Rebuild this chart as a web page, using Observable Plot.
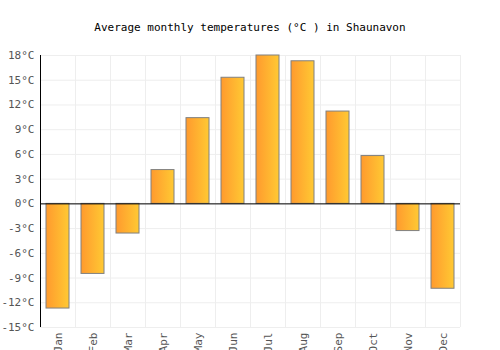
<!DOCTYPE html>
<html>
<head>
<meta charset="utf-8">
<script src="https://cdn.jsdelivr.net/npm/d3@7"></script>
<script src="https://cdn.jsdelivr.net/npm/@observablehq/plot@0.6"></script>
<style>
  body { margin: 0; background: #fff; }
  #chart { position: relative; width: 500px; height: 350px; }
  #title { position: absolute; top: 21px; left: 0; width: 500px; text-align: center;
    font: 11px "DejaVu Sans Mono", monospace; color: #000; }
</style>
</head>
<body>
<div id="chart"><div id="title">Average monthly temperatures (°C ) in Shaunavon</div></div>
<script>
const months = ["Jan","Feb","Mar","Apr","May","Jun","Jul","Aug","Sep","Oct","Nov","Dec"];
const temps = [-12.7, -8.5, -3.6, 4.1, 10.4, 15.3, 18.0, 17.3, 11.2, 5.8, -3.3, -10.3];
const yTicks = [-15, -12, -9, -6, -3, 0, 3, 6, 9, 12, 15, 18];

const data = months.map((m, i) => ({month: m, temp: temps[i]}));
const step = (500 - 40 - 40) / months.length;

const plot = Plot.plot({
  width: 500,
  height: 350,
  marginLeft: 40,
  marginRight: 40,
  marginTop: 55,
  marginBottom: 23,
  style: {fontFamily: "'DejaVu Sans Mono', monospace", fontSize: "11px", background: "transparent"},
  x: {domain: months, paddingInner: 0.33, paddingOuter: 0.165, label: null},
  y: {domain: [-15, 18], label: null},
  marks: [
    Plot.gridY(yTicks, {stroke: "#eeeeee", strokeOpacity: 1}),
    Plot.gridX(months, {dx: -step / 2, stroke: "#eeeeee", strokeOpacity: 1}),
    Plot.gridX(["Dec"], {dx: step / 2, stroke: "#eeeeee", strokeOpacity: 1}),
    Plot.barY(data, {x: "month", y: "temp", fill: "url(#barGrad)", stroke: "#808080", strokeWidth: 1}),
    Plot.ruleY([0], {stroke: "#000", strokeWidth: 1}),
    Plot.gridX(["Jan"], {dx: -step / 2, stroke: "#000", strokeOpacity: 1, strokeWidth: 1}),
    Plot.axisY(yTicks, {tickSize: 0, tickPadding: 6, tickFormat: d => d + "°C", fill: "#555", label: null}),
    Plot.axisX({tickSize: 0, tickRotate: -90, tickPadding: 5, fill: "#555", label: null})
  ]
});

const ns = "http://www.w3.org/2000/svg";
const defs = document.createElementNS(ns, "defs");
const grad = document.createElementNS(ns, "linearGradient");
grad.setAttribute("id", "barGrad");
grad.setAttribute("x1", "0"); grad.setAttribute("x2", "1");
grad.setAttribute("y1", "0"); grad.setAttribute("y2", "0");
[["0%", "#ff9a2e"], ["100%", "#ffc933"]].forEach(([o, c]) => {
  const s = document.createElementNS(ns, "stop");
  s.setAttribute("offset", o); s.setAttribute("stop-color", c);
  grad.appendChild(s);
});
defs.appendChild(grad);
plot.insertBefore(defs, plot.firstChild);
plot.style.position = "absolute";
plot.style.left = "0";
plot.style.top = "0";
document.getElementById("chart").appendChild(plot);
</script>
</body>
</html>
